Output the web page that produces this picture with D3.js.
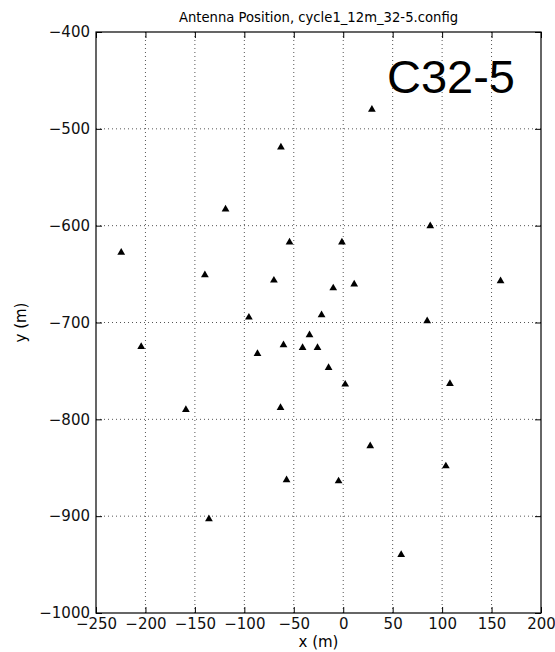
<!DOCTYPE html>
<html>
<head>
<meta charset="utf-8">
<script src="https://cdn.jsdelivr.net/npm/d3@7"></script>
<style>
  html, body { margin: 0; padding: 0; background: #fff; }
  svg { display: block; }
</style>
</head>
<body>
<svg id="chart" width="555" height="652"></svg>
<script>
// Antenna pad positions for configuration C32-5 (metres)
const antennaX = [29, -63, -119, 88, -224.5, -54.3, -139.9, -70.1, -21.9, -95.4,
  -204.3, -34.1, -60.4, -41.1, -26, -86.7, -159.1, -63.4, -10.1, 11.1,
  159.1, 84.9, -14.8, 2, 107.9, 27.3, -4.7, 103.8, 58.6, -57.3,
  -135.8, -1.3];
const antennaY = [-480, -519, -583, -600.4, -627.6, -617.2, -651, -656.5, -692.3, -694.7,
  -725, -713, -723.3, -726, -726, -732.2, -790, -788, -664.5, -660.6,
  -657.2, -698.5, -746.7, -763.9, -763.2, -827.6, -863.8, -848.3, -939.8, -862.7,
  -902.9, -617.2];
const xTicks = [-250, -200, -150, -100, -50, 0, 50, 100, 150, 200];
const yTicks = [-400, -500, -600, -700, -800, -900, -1000];

const titleText = "Antenna Position, cycle1_12m_32-5.config";
const configLabel = "C32-5";

const svg = d3.select("#chart");
const m = { left: 96, right: 541, top: 32, bottom: 613 };
const sans = "DejaVu Sans, sans-serif";

const x = d3.scaleLinear().domain([-250, 200]).range([m.left, m.right]);
const y = d3.scaleLinear().domain([-1000, -400]).range([m.bottom, m.top]);

const minus = v => (v < 0 ? "\u2212" + Math.abs(v) : String(v));

// dotted grid
const grid = svg.append("g");
grid.selectAll(".gx").data(xTicks.slice(1, -1)).enter().append("line")
  .attr("x1", d => x(d)).attr("x2", d => x(d))
  .attr("y1", m.top).attr("y2", m.bottom)
  .attr("stroke", "#555").attr("stroke-width", 1).attr("stroke-dasharray", "1,3");
grid.selectAll(".gy").data(yTicks.slice(1, -1)).enter().append("line")
  .attr("y1", d => y(d)).attr("y2", d => y(d))
  .attr("x1", m.left).attr("x2", m.right)
  .attr("stroke", "#555").attr("stroke-width", 1).attr("stroke-dasharray", "1,3");

// axes (ticks pointing inward on all four sides)
const tickLen = 6;
const styleLabels = g => {
  g.select(".domain").remove();
  g.selectAll("text").attr("font-size", 15).attr("font-family", sans).attr("fill", "#111");
};
svg.append("g").attr("transform", `translate(0,${m.bottom})`)
  .call(d3.axisBottom(x).tickValues(xTicks).tickSizeInner(-tickLen).tickSizeOuter(0).tickPadding(5).tickFormat(minus))
  .call(styleLabels);
svg.append("g").attr("transform", `translate(0,${m.top})`)
  .call(d3.axisTop(x).tickValues(xTicks).tickSizeInner(-tickLen).tickSizeOuter(0).tickFormat(""))
  .call(g => g.select(".domain").remove());
svg.append("g").attr("transform", `translate(${m.left},0)`)
  .call(d3.axisLeft(y).tickValues(yTicks).tickSizeInner(-tickLen).tickSizeOuter(0).tickPadding(6).tickFormat(minus))
  .call(styleLabels);
svg.append("g").attr("transform", `translate(${m.right},0)`)
  .call(d3.axisRight(y).tickValues(yTicks).tickSizeInner(-tickLen).tickSizeOuter(0).tickFormat(""))
  .call(g => g.select(".domain").remove());

// frame
svg.append("rect")
  .attr("x", m.left).attr("y", m.top)
  .attr("width", m.right - m.left).attr("height", m.bottom - m.top)
  .attr("fill", "none").attr("stroke", "#000").attr("stroke-width", 1.2);

// antenna markers
const tri = d3.symbol().type(d3.symbolTriangle).size(26);
svg.append("g").selectAll("path")
  .data(antennaX.map((d, i) => [d, antennaY[i]]))
  .enter().append("path")
  .attr("d", tri)
  .attr("transform", d => `translate(${x(d[0])},${y(d[1])})`)
  .attr("fill", "#000");

// titles and labels
svg.append("text").attr("x", (m.left + m.right) / 2).attr("y", 22)
  .attr("text-anchor", "middle").attr("font-family", sans).attr("font-size", 13.2).text(titleText);
svg.append("text").attr("x", (m.left + m.right) / 2).attr("y", 647)
  .attr("text-anchor", "middle").attr("font-family", sans).attr("font-size", 15).text("x (m)");
svg.append("text").attr("transform", `translate(26,${(m.top + m.bottom) / 2}) rotate(-90)`)
  .attr("text-anchor", "middle").attr("font-family", sans).attr("font-size", 15).text("y (m)");
svg.append("text").attr("x", 387).attr("y", 93)
  .attr("font-family", "Liberation Sans, Arial, sans-serif").attr("font-size", 47)
  .text(configLabel);
</script>
</body>
</html>
